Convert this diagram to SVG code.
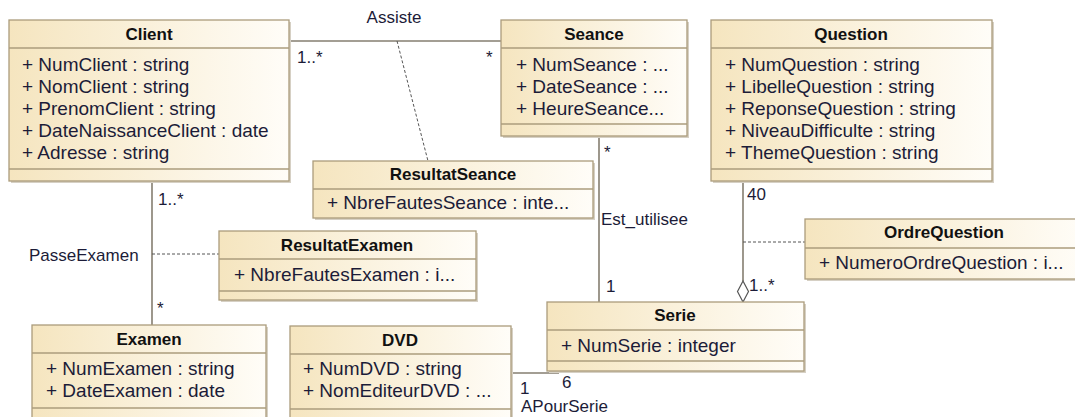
<svg xmlns="http://www.w3.org/2000/svg" width="1075" height="417" viewBox="0 0 1075 417">
<defs>
<linearGradient id="g" x1="0" y1="0" x2="1" y2="0">
<stop offset="0" stop-color="#f5e5bf"/>
<stop offset="1" stop-color="#fffdf8"/>
</linearGradient>
<style>
.box{fill:url(#g);stroke:#ab9c7c;stroke-width:1.3}
.sh{fill:#d6d0c4}
.sep{stroke:#ab9c7c;stroke-width:1.3}
.t{font-family:"Liberation Sans",Arial,sans-serif;font-size:17px;font-weight:bold;fill:#111;text-anchor:middle}
.a{font-family:"Liberation Sans",Arial,sans-serif;font-size:19px;fill:#1c1c38}
.l{font-family:"Liberation Sans",Arial,sans-serif;font-size:17px;fill:#1c1c38}
.c{stroke:#857e70;stroke-width:1.6;fill:none}
.d{stroke:#555;stroke-width:1;stroke-dasharray:3,2;fill:none}
</style>
</defs>
<rect width="1075" height="417" fill="#fff"/>
<g id="connectors">
<line class="c" x1="289" y1="41" x2="501" y2="41"/>
<line class="c" x1="152" y1="181" x2="152" y2="325"/>
<line class="c" x1="599" y1="136" x2="599" y2="302"/>
<line class="c" x1="743" y1="181" x2="743" y2="281"/>
<path d="M743 281 L748.5 291.5 L743 302 L737.5 291.5 Z" fill="#fff" stroke="#555" stroke-width="1.2"/>
<line class="c" x1="511" y1="373" x2="559" y2="373"/>
<line class="d" x1="397" y1="41" x2="428" y2="161"/>
<line class="d" x1="152" y1="254" x2="219" y2="254"/>
<line class="d" x1="743" y1="242" x2="805" y2="242"/>
<text class="l" x="394" y="23" text-anchor="middle">Assiste</text>
<text class="l" x="297" y="63">1..*</text>
<text class="l" x="486" y="63">*</text>
<text class="l" x="158" y="205">1..*</text>
<text class="l" x="29" y="261">PasseExamen</text>
<text class="l" x="157" y="314">*</text>
<text class="l" x="604" y="158">*</text>
<text class="l" x="601" y="225">Est_utilisee</text>
<text class="l" x="606" y="292">1</text>
<text class="l" x="747" y="200">40</text>
<text class="l" x="749" y="291">1..*</text>
<text class="l" x="520" y="394">1</text>
<text class="l" x="562" y="388">6</text>
<text class="l" x="521" y="412">APourSerie</text>
</g>
<g id="Client">
<rect class="sh" x="11" y="22" width="280" height="161"/>
<rect class="box" x="9" y="20" width="280" height="161"/>
<line class="sep" x1="9" y1="48" x2="289" y2="48"/>
<line class="sep" x1="9" y1="169" x2="289" y2="169"/>
<text class="t" x="149" y="40">Client</text>
<text class="a" x="22" y="71">+ NumClient : string</text>
<text class="a" x="22" y="93">+ NomClient : string</text>
<text class="a" x="22" y="115">+ PrenomClient : string</text>
<text class="a" x="22" y="137">+ DateNaissanceClient : date</text>
<text class="a" x="22" y="159">+ Adresse : string</text>
</g>
<g id="Seance">
<rect class="sh" x="503" y="22" width="186" height="116"/>
<rect class="box" x="501" y="20" width="186" height="116"/>
<line class="sep" x1="501" y1="48" x2="687" y2="48"/>
<line class="sep" x1="501" y1="124" x2="687" y2="124"/>
<text class="t" x="594" y="40">Seance</text>
<text class="a" x="516" y="71">+ NumSeance : ...</text>
<text class="a" x="516" y="93">+ DateSeance : ...</text>
<text class="a" x="516" y="115">+ HeureSeance...</text>
</g>
<g id="Question">
<rect class="sh" x="713" y="22" width="281" height="161"/>
<rect class="box" x="711" y="20" width="281" height="161"/>
<line class="sep" x1="711" y1="48" x2="992" y2="48"/>
<line class="sep" x1="711" y1="169" x2="992" y2="169"/>
<text class="t" x="851" y="40">Question</text>
<text class="a" x="725" y="71">+ NumQuestion : string</text>
<text class="a" x="725" y="93">+ LibelleQuestion : string</text>
<text class="a" x="725" y="115">+ ReponseQuestion : string</text>
<text class="a" x="725" y="137">+ NiveauDifficulte : string</text>
<text class="a" x="725" y="159">+ ThemeQuestion : string</text>
</g>
<g id="ResultatSeance">
<rect class="sh" x="315" y="163" width="280" height="57"/>
<rect class="box" x="313" y="161" width="280" height="57"/>
<line class="sep" x1="313" y1="189" x2="593" y2="189"/>
<text class="t" x="453" y="180">ResultatSeance</text>
<text class="a" x="327" y="209">+ NbreFautesSeance : inte...</text>
</g>
<g id="ResultatExamen">
<rect class="sh" x="221" y="233" width="257" height="69"/>
<rect class="box" x="219" y="231" width="257" height="69"/>
<line class="sep" x1="219" y1="259" x2="476" y2="259"/>
<line class="sep" x1="219" y1="291" x2="476" y2="291"/>
<text class="t" x="347" y="251">ResultatExamen</text>
<text class="a" x="234" y="281">+ NbreFautesExamen : i...</text>
</g>
<g id="OrdreQuestion">
<rect class="sh" x="807" y="221" width="280" height="60"/>
<rect class="box" x="805" y="219" width="280" height="60"/>
<line class="sep" x1="805" y1="248" x2="1085" y2="248"/>
<text class="t" x="944" y="238">OrdreQuestion</text>
<text class="a" x="819" y="269">+ NumeroOrdreQuestion : i...</text>
</g>
<g id="Serie">
<rect class="sh" x="549" y="304" width="257" height="69"/>
<rect class="box" x="547" y="302" width="257" height="69"/>
<line class="sep" x1="547" y1="330" x2="804" y2="330"/>
<line class="sep" x1="547" y1="361" x2="804" y2="361"/>
<text class="t" x="675" y="321">Serie</text>
<text class="a" x="561" y="352">+ NumSerie : integer</text>
</g>
<g id="Examen">
<rect class="sh" x="34" y="327" width="234" height="110"/>
<rect class="box" x="32" y="325" width="234" height="110"/>
<line class="sep" x1="32" y1="353" x2="266" y2="353"/>
<line class="sep" x1="32" y1="408" x2="266" y2="408"/>
<text class="t" x="149" y="345">Examen</text>
<text class="a" x="46" y="375">+ NumExamen : string</text>
<text class="a" x="46" y="397">+ DateExamen : date</text>
</g>
<g id="DVD">
<rect class="sh" x="292" y="328" width="221" height="110"/>
<rect class="box" x="290" y="326" width="221" height="110"/>
<line class="sep" x1="290" y1="354" x2="511" y2="354"/>
<line class="sep" x1="290" y1="409" x2="511" y2="409"/>
<text class="t" x="400" y="346">DVD</text>
<text class="a" x="303" y="375">+ NumDVD : string</text>
<text class="a" x="303" y="397">+ NomEditeurDVD : ...</text>
</g>
</svg>
